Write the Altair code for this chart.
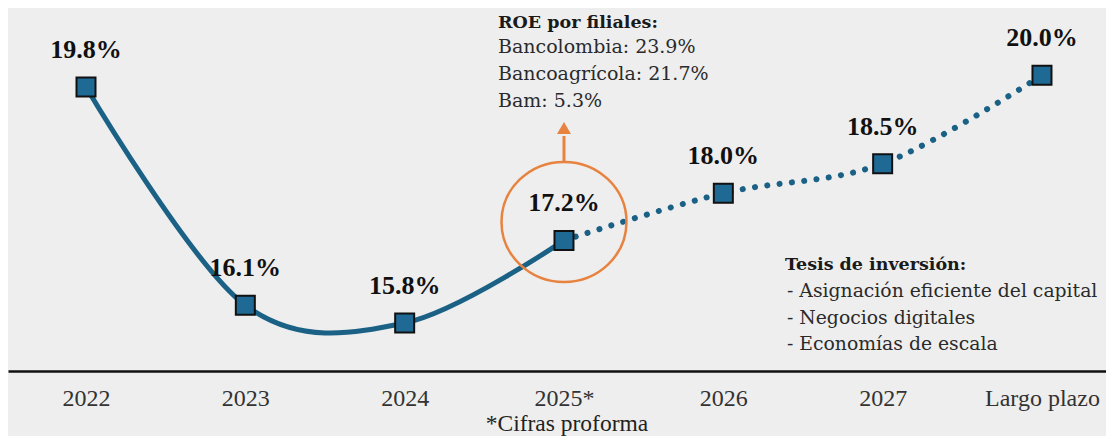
import json
import altair as alt
import pandas as pd

# ---- data ----
categories = ["2022", "2023", "2024", "2025*", "2026", "2027", "Largo plazo"]
roe = [19.8, 16.1, 15.8, 17.2, 18.0, 18.5, 20.0]
roe_title = "ROE por filiales:"
roe_lines = ["Bancolombia: 23.9%", "Bancoagrícola: 21.7%", "Bam: 5.3%"]
tesis_title = "Tesis de inversión:"
tesis_lines = ["- Asignación eficiente del capital", "- Negocios digitales", "- Economías de escala"]
footnote = "*Cifras proforma"

df = pd.DataFrame({"idx": list(range(len(categories))), "cat": categories, "roe": roe})
dummy = pd.DataFrame({"a": [0]})

BLUE_LINE = "#1b6186"
BLUE_FILL = "#1f6a94"
ORANGE = "#e8823f"

W = 1098
H = 363

x_enc = alt.X(
    "idx:Q",
    title=None,
    scale=alt.Scale(domain=[-0.48955, 6.4018], nice=False, zero=False),
    axis=alt.Axis(
        values=list(range(len(categories))),
        labelExpr=json.dumps(categories) + "[datum.value]",
        grid=False,
        ticks=False,
        domainColor="#111111",
        domainWidth=2.5,
        labelFont="Liberation Serif",
        labelFontSize=24,
        labelColor="#333333",
        labelBaseline="alphabetic",
        labelPadding=34,
        labelOverlap=False,
        labelFlush=False,
    ),
)
y_enc = alt.Y(
    "roe:Q",
    scale=alt.Scale(domain=[14.9864, 21.139], nice=False, zero=False),
    axis=None,
)

base = alt.Chart(df).encode(x=x_enc, y=y_enc)

solid = base.transform_filter("datum.idx <= 3").mark_line(
    interpolate="cardinal", color=BLUE_LINE, strokeWidth=5
)
dotted = base.transform_filter("datum.idx >= 3").mark_line(
    interpolate="cardinal", color=BLUE_LINE, strokeWidth=6,
    strokeDash=[0.1, 12.3], strokeCap="round"
)

ellipse_path = "M -1 0 A 1 0.96 0 1 1 1 0 A 1 0.96 0 1 1 -1 0 Z"
ellipse = base.transform_filter("datum.idx == 3").mark_point(
    shape=ellipse_path, size=15625, filled=False, color=ORANGE,
    stroke=ORANGE, strokeWidth=2.5, opacity=1, yOffset=-18.5
)

arrow_shaft = alt.Chart(df).transform_filter("datum.idx == 3").mark_rule(
    color=ORANGE, strokeWidth=3
).encode(x=x_enc, y=alt.value(154), y2=alt.value(128))

arrow_head = alt.Chart(df).transform_filter("datum.idx == 3").mark_point(
    shape="triangle-up", size=196, filled=True, color=ORANGE, opacity=1
).encode(x=x_enc, y=alt.value(120))

markers = base.mark_point(
    shape="square", size=361, filled=True, fill=BLUE_FILL,
    stroke="#111111", strokeWidth=2, opacity=1
)

labels = base.transform_calculate(
    label="format(datum.roe, '.1f') + '%'"
).mark_text(
    dy=-37, font="Liberation Serif", fontWeight="bold", fontSize=26,
    color="#111111", baseline="middle"
).encode(text="label:N")

foot = alt.Chart(df).transform_filter("datum.idx == 3").mark_text(
    text=footnote, font="Liberation Serif", fontSize=23.5, color="#222222",
    baseline="alphabetic", align="center", dx=3
).encode(x=x_enc, y=alt.value(423))

roe_t = alt.Chart(dummy).mark_text(
    text=roe_title, font="DejaVu Serif", fontWeight="bold", fontSize=17.5,
    color="#1a1a1a", align="left", baseline="alphabetic"
).encode(x=alt.value(490), y=alt.value(20))
roe_b = alt.Chart(dummy).mark_text(
    text=roe_lines, font="DejaVu Serif", fontSize=19, lineHeight=27,
    color="#2a2a2a", align="left", baseline="alphabetic"
).encode(x=alt.value(490), y=alt.value(45))

tes_t = alt.Chart(dummy).mark_text(
    text=tesis_title, font="DejaVu Serif", fontWeight="bold", fontSize=17.5,
    color="#1a1a1a", align="left", baseline="alphabetic"
).encode(x=alt.value(777), y=alt.value(262))
tes_b = alt.Chart(dummy).mark_text(
    text=tesis_lines, font="DejaVu Serif", fontSize=18.8, lineHeight=26.5,
    color="#2a2a2a", align="left", baseline="alphabetic"
).encode(x=alt.value(779), y=alt.value(289))

chart = alt.layer(
    dotted, solid, ellipse, arrow_shaft, arrow_head, markers, labels,
    foot, roe_t, roe_b, tes_t, tes_b
).properties(
    width=W,
    height=H,
    autosize=alt.AutoSizeParams(type="none"),
    padding={"left": 0, "top": 0, "right": 0, "bottom": 65},
    background="#eeeeee",
).configure_view(stroke=None)

chart.save("out.html", embed_options={"renderer": "svg", "actions": False})
